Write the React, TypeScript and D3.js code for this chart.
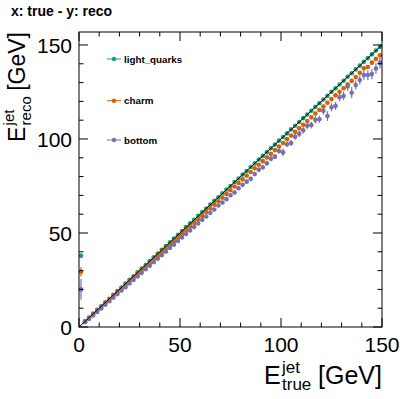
import React from 'react';
import * as d3 from 'd3';

const W = 415;
const H = 399;

// bin centres of E_true (2 GeV bins)
const trueE = [
  1, 3, 5, 7, 9, 11, 13, 15, 17, 19, 21, 23, 25, 27, 29, 31, 33, 35, 37, 39,
  41, 43, 45, 47, 49, 51, 53, 55, 57, 59, 61, 63, 65, 67, 69, 71, 73, 75, 77, 79,
  81, 83, 85, 87, 89, 91, 93, 95, 97, 99, 101, 103, 105, 107, 109, 111, 113, 115, 117, 119,
  121, 123, 125, 127, 129, 131, 133, 135, 137, 139, 141, 143, 145, 147, 149,
];

const lightQuarks = [
  37.9, 3.1, 5.0, 7.1, 9.1, 11.0, 13.1, 15.0, 17.1, 19.1, 21.0, 23.1, 25.1, 27.0, 29.1, 31.1, 33.0, 35.1, 37.1, 39.0,
  41.1, 43.1, 45.0, 47.1, 49.1, 51.0, 53.1, 55.1, 57.0, 59.1, 61.1, 63.0, 65.1, 67.1, 69.0, 71.1, 73.1, 75.0, 77.1, 79.0,
  81.1, 83.0, 85.1, 87.0, 89.1, 91.0, 93.0, 95.1, 97.0, 99.1, 101.0, 103.0, 105.1, 107.0, 109.0, 111.1, 113.0, 115.0, 117.1, 119.0,
  121.0, 123.0, 125.1, 127.0, 129.0, 131.0, 133.1, 135.0, 137.0, 139.0, 141.1, 143.0, 145.0, 147.0, 149.0,
];
const lightQuarksErr = [
  1.2, 0.2, 0.2, 0.2, 0.2, 0.2, 0.2, 0.2, 0.2, 0.2, 0.2, 0.2, 0.2, 0.2, 0.2, 0.2, 0.2, 0.2, 0.2, 0.2,
  0.2, 0.2, 0.2, 0.2, 0.2, 0.2, 0.2, 0.2, 0.2, 0.2, 0.3, 0.3, 0.3, 0.3, 0.3, 0.3, 0.3, 0.3, 0.3, 0.3,
  0.3, 0.3, 0.3, 0.3, 0.3, 0.3, 0.3, 0.3, 0.3, 0.3, 0.4, 0.4, 0.4, 0.4, 0.4, 0.4, 0.4, 0.4, 0.4, 0.4,
  0.5, 0.5, 0.5, 0.5, 0.5, 0.5, 0.5, 0.5, 0.5, 0.5, 0.6, 0.6, 0.6, 0.6, 0.6,
];

const charm = [
  29.4, 2.8, 4.8, 6.7, 8.7, 10.6, 12.6, 14.5, 16.5, 18.4, 20.3, 22.3, 24.2, 26.2, 28.1, 30.0, 32.0, 33.9, 35.9, 37.8,
  39.7, 41.7, 43.6, 45.6, 47.5, 49.4, 51.4, 53.3, 55.3, 57.2, 59.1, 61.1, 63.0, 65.0, 66.9, 68.8, 70.8, 72.7, 74.7, 76.6,
  78.5, 80.5, 82.4, 84.4, 86.3, 88.2, 90.2, 92.1, 94.1, 96.0, 97.9, 99.9, 101.8, 103.8, 105.7, 107.6, 109.6, 111.5, 113.5, 115.4,
  117.3, 119.3, 121.2, 123.2, 125.1, 127.0, 129.0, 130.9, 132.9, 135.2, 137.6, 138.3, 140.6, 142.6, 144.5,
];
const charmErr = [
  2.5, 0.3, 0.3, 0.3, 0.3, 0.3, 0.3, 0.3, 0.3, 0.3, 0.3, 0.3, 0.3, 0.3, 0.3, 0.3, 0.3, 0.3, 0.3, 0.3,
  0.4, 0.4, 0.4, 0.4, 0.4, 0.4, 0.4, 0.4, 0.4, 0.4, 0.5, 0.5, 0.5, 0.5, 0.5, 0.5, 0.5, 0.5, 0.5, 0.5,
  0.6, 0.6, 0.6, 0.6, 0.6, 0.6, 0.6, 0.6, 0.6, 0.6, 0.7, 0.7, 0.7, 0.7, 0.7, 0.7, 0.7, 0.7, 0.7, 0.7,
  0.8, 0.8, 0.8, 0.8, 0.8, 0.9, 0.9, 0.9, 0.9, 0.9, 1.0, 1.0, 1.0, 1.0, 1.0,
];

const bottom = [
  20.0, 2.5, 4.3, 6.1, 8.0, 9.9, 11.8, 13.7, 15.6, 17.5, 19.4, 21.2, 23.1, 25.0, 26.9, 28.8, 30.7, 32.6, 34.4, 36.3,
  38.2, 40.1, 42.0, 43.8, 45.7, 47.6, 49.5, 51.3, 53.2, 55.1, 57.0, 58.8, 60.7, 62.5, 64.6, 66.2, 68.0, 70.1, 71.5, 73.8,
  75.6, 77.3, 78.8, 81.4, 83.6, 85.0, 87.1, 89.5, 90.6, 93.6, 92.9, 97.2, 97.9, 101.2, 102.8, 104.6, 107.0, 107.4, 110.2, 110.5,
  115.0, 112.2, 116.9, 117.6, 122.2, 122.9, 128.0, 124.6, 128.7, 131.4, 134.0, 134.0, 134.5, 137.5, 140.5,
];
const bottomErr = [
  5.5, 0.4, 0.4, 0.4, 0.4, 0.4, 0.4, 0.4, 0.4, 0.4, 0.4, 0.4, 0.4, 0.4, 0.4, 0.4, 0.5, 0.5, 0.5, 0.5,
  0.5, 0.5, 0.5, 0.5, 0.6, 0.6, 0.6, 0.6, 0.6, 0.7, 0.7, 0.7, 0.7, 0.8, 0.8, 0.8, 0.9, 0.9, 1.0, 1.0,
  1.0, 1.1, 1.1, 1.2, 1.2, 1.3, 1.3, 1.4, 1.4, 1.5, 2.0, 1.5, 1.6, 1.6, 1.7, 1.7, 1.8, 1.8, 1.9, 1.9,
  2.0, 2.6, 2.1, 2.1, 2.2, 2.2, 2.3, 3.0, 2.4, 2.4, 2.5, 2.6, 2.7, 2.8, 3.0,
];

const seriesNames = ['light_quarks', 'charm', 'bottom'];
const seriesValues = [lightQuarks, charm, bottom];
const seriesErrors = [lightQuarksErr, charmErr, bottomErr];
const seriesColors = ['#1b9e77', '#d95f02', '#7570b3'];

const majorTicks = [0, 50, 100, 150];
const diagonal = [0, 150];

const FONT = "'Liberation Sans', Arial, Helvetica, sans-serif";
const frame = { left: 79, right: 382, top: 32, bottom: 327 };

const x = d3.scaleLinear().domain([0, 150]).range([frame.left, frame.right]);
const y = d3.scaleLinear().domain([0, 156.9]).range([frame.bottom, frame.top]);

const Axes = () => {
  const xMinor = d3.range(0, 151, 10);
  const yMinor = d3.range(0, 157, 10);
  return (
    <g stroke="#000" strokeWidth={1}>
      {xMinor.map((t) => {
        const len = t % 50 === 0 ? 9 : 4.5;
        return (
          <g key={'x' + t}>
            <line x1={x(t)} x2={x(t)} y1={frame.bottom} y2={frame.bottom - len} />
            <line x1={x(t)} x2={x(t)} y1={frame.top} y2={frame.top + len} />
          </g>
        );
      })}
      {yMinor.map((t) => {
        const len = t % 50 === 0 ? 9 : 4.5;
        return (
          <g key={'y' + t}>
            <line x1={frame.left} x2={frame.left + len} y1={y(t)} y2={y(t)} />
            <line x1={frame.right} x2={frame.right - len} y1={y(t)} y2={y(t)} />
          </g>
        );
      })}
      <rect x={frame.left} y={frame.top} width={frame.right - frame.left}
        height={frame.bottom - frame.top} fill="none" />
    </g>
  );
};

// E^{jet}_{sub} [GeV], right-aligned at the origin of its group
const AxisTitle = ({ sub, start, size, small }: { sub: string; start: number; size: number; small: number }) => (
  <>
    <text x={start} y={0} fontSize={size}>E</text>
    <text x={start + size * 0.72} y={-size * 0.46} fontSize={small}>jet</text>
    <text x={start + size * 0.72} y={size * 0.24} fontSize={small}>{sub}</text>
    <text x={0} y={0} fontSize={size} textAnchor="end">[GeV]</text>
  </>
);

const Labels = () => (
  <g fontFamily={FONT} fill="#000">
    {majorTicks.map((t) => (
      <text key={'xl' + t} x={x(t)} y={352} fontSize={21} textAnchor="middle">{t}</text>
    ))}
    {majorTicks.map((t) => (
      <text key={'yl' + t} x={72} y={y(t) + 7.6} fontSize={21} textAnchor="end">{t}</text>
    ))}
    <g transform="translate(382,384)">
      <AxisTitle sub="true" start={-118} size={25} small={17} />
    </g>
    <g transform="translate(25,32) rotate(-90)">
      <AxisTitle sub="reco" start={-110} size={23} small={15} />
    </g>
    <text x={11} y={16} fontSize={14} fontWeight="bold">x: true - y: reco</text>
  </g>
);

const Legend = () => {
  const rows = [59, 100.7, 140];
  return (
    <g fontFamily={FONT}>
      {seriesNames.map((name, i) => (
        <g key={name} transform={`translate(0,${rows[i]})`}>
          <line x1={107} x2={121} y1={0} y2={0} stroke={seriesColors[i]} strokeWidth={1} />
          <circle cx={114} cy={0} r={2.2} fill={seriesColors[i]} />
          <text x={124} y={3.5} fontSize={9.8} fontWeight="bold" fill="#000">{name}</text>
        </g>
      ))}
    </g>
  );
};

export default function App() {
  return (
    <svg width={W} height={H} style={{ position: 'absolute', left: 0, top: 0, background: '#fff' }}>
      <rect width={W} height={H} fill="#fff" />
      {seriesValues.map((vals, si) => (
        <g key={seriesNames[si]} fill={seriesColors[si]} stroke={seriesColors[si]}>
          {vals.map((v, i) => (
            <g key={i}>
              <line x1={x(trueE[i])} x2={x(trueE[i])} y1={y(v - seriesErrors[si][i])}
                y2={y(v + seriesErrors[si][i])} strokeWidth={1.2} />
              <circle cx={x(trueE[i])} cy={y(v)} r={2.3} stroke="none" />
            </g>
          ))}
        </g>
      ))}
      <line x1={x(diagonal[0])} y1={y(diagonal[0])} x2={x(diagonal[1])} y2={y(diagonal[1])}
        stroke="#000" strokeWidth={1} />
      <Axes />
      <Legend />
      <Labels />
    </svg>
  );
}
